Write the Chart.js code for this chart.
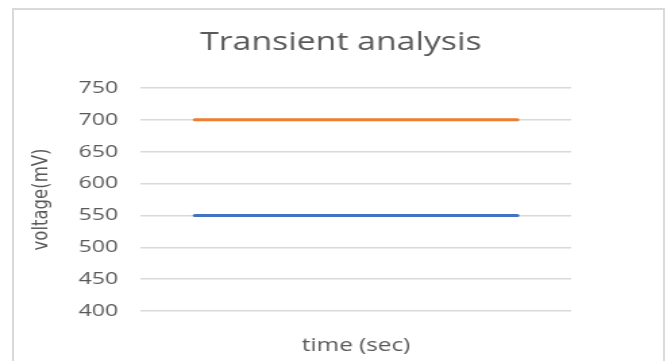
<!DOCTYPE html>
<html>
<head>
<meta charset="utf-8">
<script src="https://cdn.jsdelivr.net/npm/chart.js@4/dist/chart.umd.min.js"></script>
<style>
  html, body { margin: 0; padding: 0; background: #ffffff; overflow: hidden; }
  #stage { position: relative; width: 671px; height: 361px; overflow: hidden; background: #fff; }
  #frame {
    position: absolute; left: 12px; top: 8px; width: 649px; height: 420px;
    border: 2px solid #d9d9d9; box-sizing: content-box; pointer-events: none;
  }
  /* the chart is laid out on a narrower canvas and widened to the full frame */
  #wrap {
    position: absolute; left: 0; top: 0; width: 497px; height: 361px;
    transform: scaleX(1.3501); transform-origin: 0 0;
  }
  canvas { display: block; }
</style>
</head>
<body>
<div id="stage">
  <div id="wrap"><canvas id="chart" width="497" height="361"></canvas></div>
  <div id="frame"></div>
</div>
<script>
// time steps along the x axis (not labelled)
const timeSteps = ['0', '1', '2', '3'];
// node voltages in mV
const seriesA = [550, 550, 550, 550];
const seriesB = [700, 700, 700, 700];
// voltage axis ticks
const voltTicks = [400, 450, 500, 550, 600, 650, 700, 750];

const textColor = '#595959';
const gridColor = '#d9d9d9';

new Chart(document.getElementById('chart'), {
  type: 'line',
  data: {
    labels: timeSteps,
    datasets: [
      {
        label: 'Series1',
        data: seriesA,
        borderColor: '#4472c4',
        backgroundColor: '#4472c4',
        borderWidth: 3,
        borderCapStyle: 'round',
        pointRadius: 0,
        tension: 0
      },
      {
        label: 'Series2',
        data: seriesB,
        borderColor: '#ed7d31',
        backgroundColor: '#ed7d31',
        borderWidth: 3,
        borderCapStyle: 'round',
        pointRadius: 0,
        tension: 0
      }
    ]
  },
  options: {
    responsive: false,
    animation: false,
    devicePixelRatio: 1,
    layout: { padding: { left: 8, right: 0, top: 0, bottom: 0 } },
    plugins: {
      legend: { display: false },
      tooltip: { enabled: false },
      title: {
        display: true,
        text: 'Transient analysis',
        color: textColor,
        font: { family: "'Open Sans'", size: 25, weight: 'normal' },
        padding: { top: 28, bottom: 30 }
      }
    },
    scales: {
      x: {
        type: 'category',
        offset: true,
        grid: { display: false },
        border: { display: false },
        ticks: { display: false },
        title: {
          display: true,
          text: 'time (sec)',
          color: textColor,
          font: { family: "'Open Sans'", size: 18 },
          padding: { top: 0, bottom: 4.2 }
        },
        afterFit(scale) { scale.height = 50; }
      },
      y: {
        min: voltTicks[0],
        max: voltTicks[voltTicks.length - 1],
        afterBuildTicks(scale) { scale.ticks = voltTicks.map(v => ({ value: v })); },
        grid: { color: gridColor, lineWidth: 1.5, drawTicks: false },
        border: { display: false },
        ticks: {
          color: textColor,
          font: { family: "'Open Sans'", size: 17 },
          padding: 17
        },
        title: {
          display: true,
          text: 'voltage(mV)',
          color: textColor,
          font: { family: "'DejaVu Sans'", size: 16.5 },
          padding: { top: 13.2, bottom: 0 }
        },
        afterFit(scale) { scale.width = 96.4; }
      },
      // empty right-hand margin beside the plot
      side: {
        type: 'linear',
        position: 'right',
        grid: { display: false },
        border: { display: false },
        ticks: { display: false },
        afterFit(scale) { scale.width = 74; }
      }
    }
  }
});
</script>
</body>
</html>
